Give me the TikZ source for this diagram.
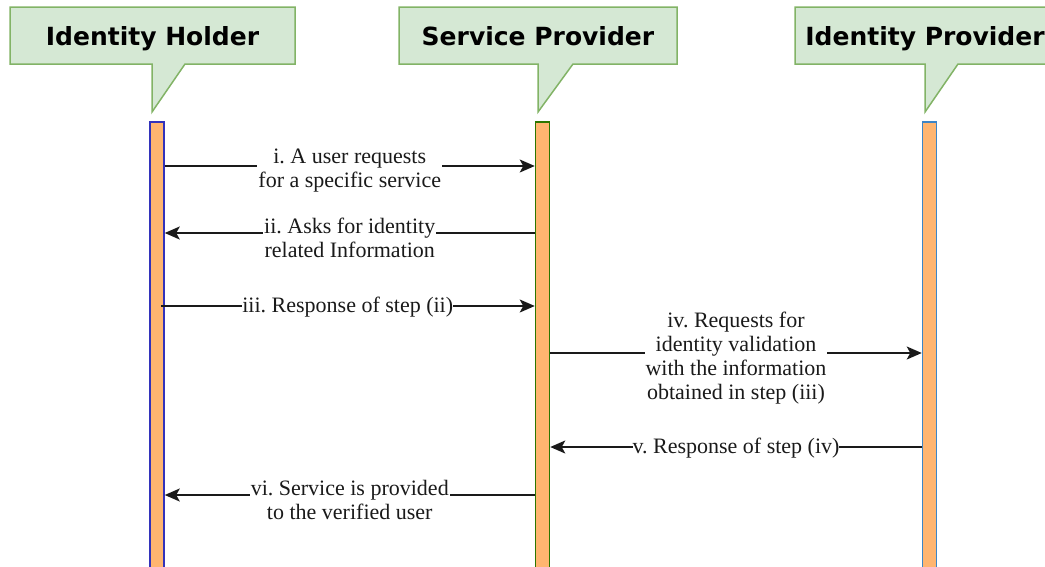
\documentclass[tikz,border=0pt]{standalone}
\usepackage{fontspec}
\setmainfont{Liberation Serif}
\newfontfamily\headfont{DejaVu Sans}
\usetikzlibrary{arrows.meta}
\frenchspacing

\definecolor{calloutfill}{HTML}{D5E8D4}
\definecolor{calloutline}{HTML}{82B366}
\definecolor{barfill}{HTML}{FFB570}
\definecolor{ihline}{HTML}{3333BB}
\definecolor{spline}{HTML}{2D7600}
\definecolor{ipline}{HTML}{3D85C6}
\definecolor{ink}{HTML}{1A1A1A}

\tikzset{
  callout/.style={fill=calloutfill, draw=calloutline, line width=1.5pt, line join=miter},
  head/.style={font=\headfont\bfseries\fontsize{25}{30}\selectfont, text=black,
               inner sep=0pt, anchor=base},
  bar/.style={fill=barfill, line width=1.5pt, minimum width=14pt, minimum height=480pt,
              anchor=north, inner sep=0pt},
  msg/.style={draw=ink, line width=1.7pt, -{Stealth[length=15pt,width=13pt,inset=3.5pt]}},
  lblbase/.style={midway, fill=white, align=center, text=ink,
                  font=\fontsize{22}{24}\selectfont},
  lbl/.style={lblbase, inner sep=1pt, yshift=-5pt},
  lbl1/.style={lblbase, inner sep=0pt, yshift=-1pt}
}

\begin{document}
\begin{tikzpicture}[x=1pt,y=-1pt]
\useasboundingbox (0,0) rectangle (1045,566);
\clip (0,0) rectangle (1045,566);

% participant callouts
\draw[callout] (10,7) -- (295,7) -- (295,64) -- (185,64) -- (152,112) -- (152,64) -- (10,64) -- cycle;
\node[head] (hIH) at (152.5,45) {Identity Holder};

\draw[callout] (399,7) -- (677,7) -- (677,64) -- (573,64) -- (538,112) -- (538,64) -- (399,64) -- cycle;
\node[head] (hSP) at (538,45) {Service Provider};

\draw[callout] (795,7) -- (1060,7) -- (1060,64) -- (958,64) -- (925,112) -- (925,64) -- (795,64) -- cycle;
\node[head] (hIP) at (925,45) {Identity Provider};

% lifelines
\node[bar, draw=ihline] (ih) at (157,121) {};
\node[bar, draw=spline] (sp) at (542.5,121) {};
\node[bar, draw=ipline] (ip) at (929.5,121) {};

% message heights
\coordinate (y1) at (0,166);
\coordinate (y2) at (0,233);
\coordinate (y3) at (0,306);
\coordinate (y4) at (0,353);
\coordinate (y5) at (0,447);
\coordinate (y6) at (0,495);

% messages
\draw[msg] (ih.east |- y1) -- node[lbl] {i. A user requests\\for a specific service} (sp.west |- y1);
\draw[msg] (sp.west |- y2) -- node[lbl] {ii. Asks for identity\\related Information} (ih.east |- y2);
\draw[msg] ([xshift=-4pt]ih.east |- y3) -- node[lbl1] {iii. Response of step (ii)} (sp.west |- y3);
\draw[msg] (sp.east |- y4) -- node[lbl] {iv. Requests for\\identity validation\\with the information\\obtained in step (iii)} (ip.west |- y4);
\draw[msg] (ip.west |- y5) -- node[lbl1] {v. Response of step (iv)} (sp.east |- y5);
\draw[msg] (sp.west |- y6) -- node[lbl] {vi. Service is provided\\to the verified user} (ih.east |- y6);
\end{tikzpicture}
\end{document}
